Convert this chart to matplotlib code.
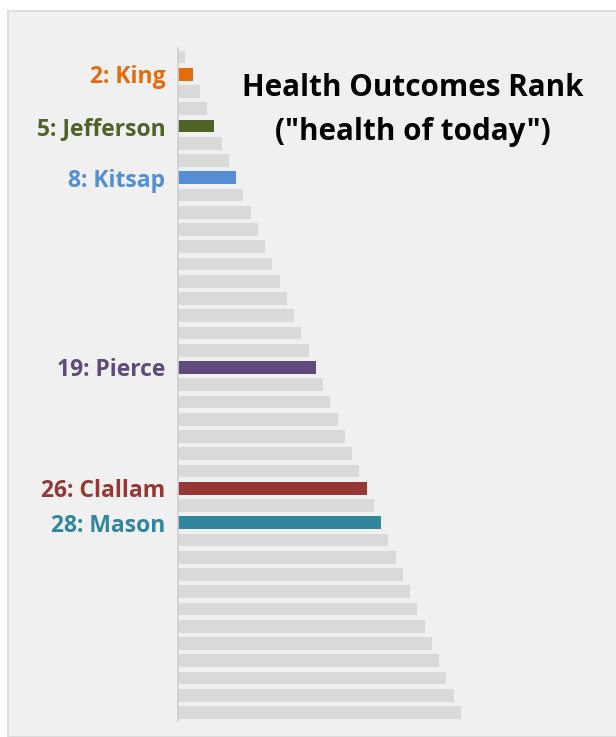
import matplotlib.pyplot as plt
from matplotlib.patches import Rectangle

# ranks of all 39 counties (bar length = rank)
ranks = list(range(1, 40))

# highlighted counties
hl_ranks = [2, 5, 8, 19, 26, 28]
hl_names = ['King', 'Jefferson', 'Kitsap', 'Pierce', 'Clallam', 'Mason']
hl_colors = ['#e46c0a', '#4f6228', '#558ed5', '#604a7b', '#953735', '#31859c']

title_lines = ['Health Outcomes Rank', '("health of today")']

W, H = 616, 737
fig = plt.figure(figsize=(W / 100, H / 100), dpi=100, facecolor='white')
plt.rcParams['font.family'] = ['Open Sans', 'DejaVu Sans']

# light panel behind everything
fig.patches.append(Rectangle((7.5 / W, 0), 1, 1 - 10.5 / H, transform=fig.transFigure,
                             facecolor='#f0f0f0', edgecolor='#d9d9d9', lw=1.2, zorder=-10))

ax = fig.add_axes([178 / W, 16 / H, (461 - 178) / W, (688.6 - 16) / H])
ax.patch.set_alpha(0)

colors = ['#d9d9d9'] * len(ranks)
for r, c in zip(hl_ranks, hl_colors):
    colors[r - 1] = c
ax.barh(ranks, ranks, height=0.74, color=colors)

ax.set_xlim(0, 39)
ax.set_ylim(39.5, 0.5)
ax.set_xticks([])
ax.set_yticks(hl_ranks)
ax.set_yticklabels(['{}: {}'.format(r, n) for r, n in zip(hl_ranks, hl_names)],
                   fontsize=16.5, fontweight='bold')
for lab, c in zip(ax.get_yticklabels(), hl_colors):
    lab.set_color(c)
ax.tick_params(axis='y', length=0, pad=9)

for s in ['top', 'right', 'bottom']:
    ax.spines[s].set_visible(False)
ax.spines['left'].set_color('#d0d0d0')
ax.spines['left'].set_linewidth(1.2)

fig.text(413 / W, 1 - 96.5 / H, title_lines[0], ha='center', va='baseline',
         fontsize=21.3, fontweight='bold', color='black')
fig.text(413 / W, 1 - 140 / H, title_lines[1], ha='center', va='baseline',
         fontsize=21.3, fontweight='bold', color='black')

fig.savefig('out.png', dpi=100, facecolor='white')
